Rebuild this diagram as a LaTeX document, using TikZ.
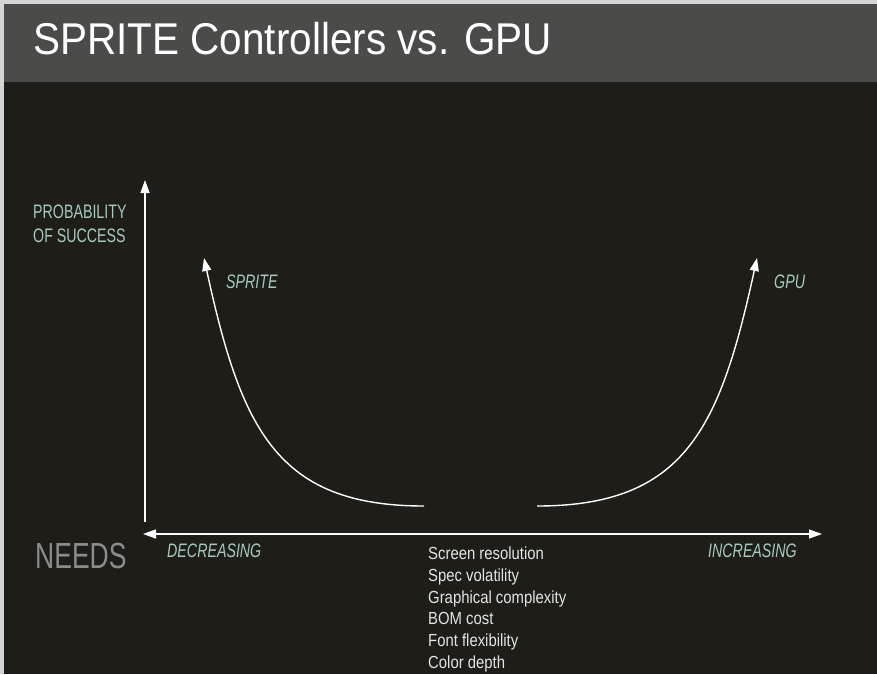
\documentclass[tikz,border=0pt]{standalone}
\usepackage{fontspec}
\setmainfont{Liberation Sans}
\newfontfamily\titlefont[FakeStretch=0.91]{Liberation Sans}
\newfontfamily\capsfont[FakeStretch=0.73]{Liberation Sans}
\newfontfamily\listfont[FakeStretch=0.85]{Liberation Sans}
\usepackage{xcolor}
\usetikzlibrary{arrows.meta}
\definecolor{edgegray}{HTML}{D4D4D4}
\definecolor{headgray}{HTML}{4B4B49}
\definecolor{boardblack}{HTML}{1E1D17}
\definecolor{paleteal}{HTML}{A4CDBD}
\definecolor{needsgray}{HTML}{8C8C8C}
\definecolor{listwhite}{HTML}{E4E4E4}
\tikzstyle{slide_title} =
  [ anchor=base west
  , inner sep=0pt
  , text=white
  , font=\titlefont\fontsize{44.5}{48}\selectfont
  ]
\tikzstyle{axis_label} =
  [ anchor=base west
  , inner sep=0pt
  , text=paleteal
  , font=\capsfont\fontsize{19.5}{24}\selectfont
  ]
\tikzstyle{curve_label} =
  [ axis_label
  , font=\capsfont\itshape\fontsize{19.5}{24}\selectfont
  ]
\tikzstyle{needs_list} =
  [ anchor=north west
  , inner sep=0pt
  , align=left
  , text=listwhite
  , font=\listfont\fontsize{17.5}{21.7}\selectfont
  ]
\tikzstyle{trend} =
  [ white
  , line width=1.4pt
  , -{Triangle[length=13pt,width=9pt]}
  ]
\def\ProbSuccess{PROBABILITY\\OF SUCCESS}
\def\NeedsList{Screen resolution\\Spec volatility\\Graphical complexity\\BOM cost\\Font flexibility\\Color depth}

\begin{document}
\begin{tikzpicture}[x=1pt,y=-1pt]
    \useasboundingbox (0,0) rectangle (877,674);
    \fill[edgegray]   (0,0) rectangle (877,674);
    \fill[boardblack] (4,4) rectangle (877,674);
    \fill[headgray]   (4,4) rectangle (877,82);

    \node[slide_title] (title) at (33,55) {SPRITE Controllers vs. GPU};

    \coordinate (origin)   at (145,522);
    \coordinate (prob_top) at (145,180);
    \coordinate (needs_lo) at (143,534);
    \coordinate (needs_hi) at (822,534);
    \draw[trend] (origin) -- (prob_top);
    \draw[trend,{Triangle[length=13pt,width=9pt]}-{Triangle[length=13pt,width=9pt]}] (needs_lo) -- (needs_hi);

    \node[axis_label,align=left,anchor=north west] (probability) at (33,205) {\ProbSuccess};

    \coordinate (sprite_low) at (424,506);
    \coordinate (sprite_tip) at (204,258);
    \coordinate (gpu_low)    at (537,506);
    \coordinate (gpu_tip)    at (757,258);
    \draw[trend] (sprite_low) .. controls (276,506) and (241,428) .. (sprite_tip);
    \draw[trend] (gpu_low)    .. controls (685,506) and (720,428) .. (gpu_tip);
    \node[curve_label] (sprite) at (226,288) {SPRITE};
    \node[curve_label] (gpu)    at (774,288) {GPU};

    \node[anchor=base west,inner sep=0pt,text=needsgray,font=\capsfont\fontsize{36.3}{40}\selectfont] (needs) at (35,568) {NEEDS};
    \node[curve_label] (decreasing) at (167,557) {DECREASING};
    \node[curve_label] (increasing) at (708,557) {INCREASING};
    \node[needs_list] (needs_items) at (428,547) {\NeedsList};
  \end{tikzpicture}
\end{document}
